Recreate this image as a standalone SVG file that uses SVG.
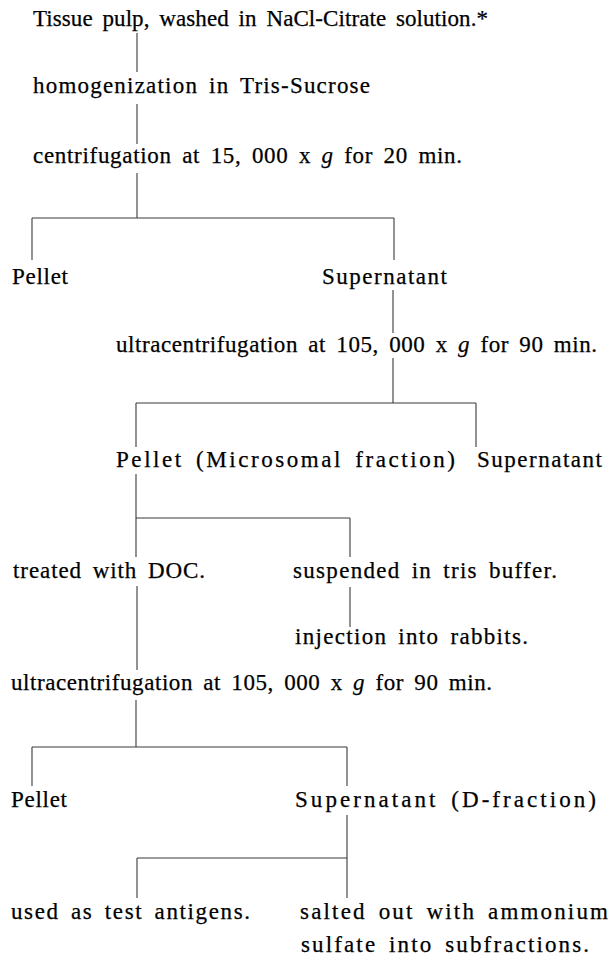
<svg xmlns="http://www.w3.org/2000/svg" width="611" height="958" viewBox="0 0 611 958">
<style>
text{font-family:"Liberation Serif","Times New Roman",serif;font-size:23px;fill:#000;stroke:#000;stroke-width:0.25;word-spacing:4px}
.c line{stroke:#3a3a3a;stroke-width:1.1;fill:none}
</style>
<rect width="611" height="958" fill="#fff"/>
<g class="c" id="connectors">
<line x1="137" y1="33" x2="137" y2="72"/>
<line x1="137" y1="104" x2="137" y2="144"/>
<line x1="137" y1="173" x2="137" y2="218"/>
<line x1="32" y1="218" x2="394" y2="218"/>
<line x1="32" y1="218" x2="32" y2="260"/>
<line x1="394" y1="218" x2="394" y2="260"/>
<line x1="393" y1="290" x2="393" y2="333"/>
<line x1="393" y1="358" x2="393" y2="403"/>
<line x1="136" y1="403" x2="476" y2="403"/>
<line x1="136" y1="403" x2="136" y2="447"/>
<line x1="476" y1="403" x2="476" y2="447"/>
<line x1="136" y1="474" x2="136" y2="557"/>
<line x1="136" y1="518" x2="350" y2="518"/>
<line x1="350" y1="518" x2="350" y2="557"/>
<line x1="137" y1="586" x2="137" y2="670"/>
<line x1="350" y1="587" x2="350" y2="627"/>
<line x1="136" y1="700" x2="136" y2="747"/>
<line x1="32" y1="747" x2="347" y2="747"/>
<line x1="32" y1="747" x2="32" y2="786"/>
<line x1="347" y1="747" x2="347" y2="786"/>
<line x1="347" y1="815" x2="347" y2="898"/>
<line x1="137" y1="858" x2="347" y2="858"/>
<line x1="137" y1="858" x2="137" y2="898"/>
</g>
<g id="n-tissue"><text x="33" y="26" textLength="455" lengthAdjust="spacing">Tissue pulp,  washed in NaCl-Citrate solution.*</text></g>
<g id="n-homog"><text x="33" y="93" textLength="337" lengthAdjust="spacing">homogenization in Tris-Sucrose</text></g>
<g id="n-centrif"><text x="33" y="163" textLength="429" lengthAdjust="spacing">centrifugation at 15, 000 x <tspan font-style="italic">g</tspan> for 20 min.</text></g>
<g id="n-pellet1"><text x="12" y="284" textLength="56" lengthAdjust="spacing">Pellet</text></g>
<g id="n-super1"><text x="322" y="284" textLength="125" lengthAdjust="spacing">Supernatant</text></g>
<g id="n-ultra1"><text x="116" y="352" textLength="481" lengthAdjust="spacing">ultracentrifugation at 105, 000 x <tspan font-style="italic">g</tspan> for 90 min.</text></g>
<g id="n-microsomal"><text x="116" y="467" textLength="339" lengthAdjust="spacing">Pellet (Microsomal fraction)</text></g>
<g id="n-super2"><text x="477" y="467" textLength="125" lengthAdjust="spacing">Supernatant</text></g>
<g id="n-doc"><text x="13" y="578" textLength="192" lengthAdjust="spacing">treated with DOC.</text></g>
<g id="n-tris"><text x="293" y="578" textLength="264" lengthAdjust="spacing">suspended in tris buffer.</text></g>
<g id="n-inject"><text x="295" y="644" textLength="233" lengthAdjust="spacing">injection into rabbits.</text></g>
<g id="n-ultra2"><text x="11" y="690" textLength="481" lengthAdjust="spacing">ultracentrifugation at 105, 000 x <tspan font-style="italic">g</tspan> for 90 min.</text></g>
<g id="n-pellet2"><text x="11" y="807" textLength="56" lengthAdjust="spacing">Pellet</text></g>
<g id="n-dfraction"><text x="295" y="807" textLength="301" lengthAdjust="spacing">Supernatant (D-fraction)</text></g>
<g id="n-antigens"><text x="11" y="919" textLength="239" lengthAdjust="spacing">used as test antigens.</text></g>
<g id="n-salted"><text x="300" y="919" textLength="308" lengthAdjust="spacing">salted out with ammonium</text><text x="301" y="952" textLength="288" lengthAdjust="spacing">sulfate into subfractions.</text></g>
</svg>
